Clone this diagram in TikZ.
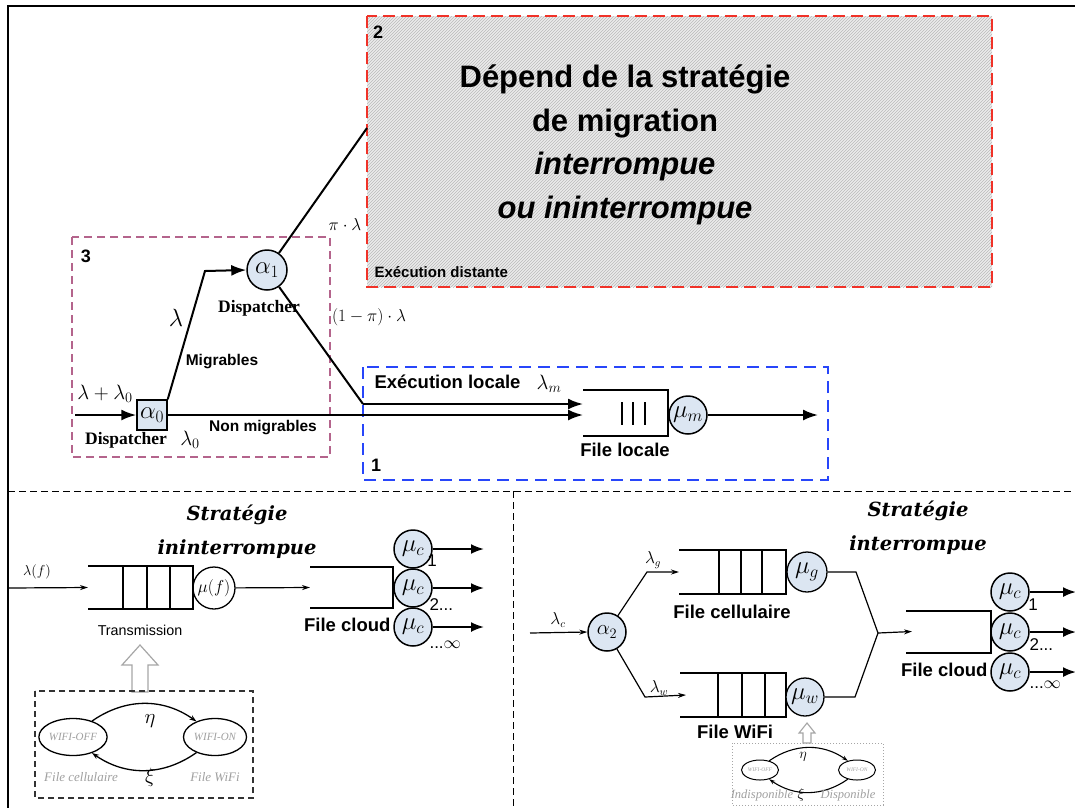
\documentclass[tikz,border=0pt]{standalone}
\usepackage{fontspec}
\setmainfont{Liberation Sans}
\newfontfamily\tms{Liberation Serif}
\newfontfamily\dvs{DejaVu Serif}
\usetikzlibrary{arrows.meta,patterns,shapes.geometric,calc}
\newcommand\fsz[1]{\fontsize{#1}{#1}\selectfont}
\definecolor{srvfill}{RGB}{220,230,242}
\definecolor{remred}{RGB}{240,50,40}
\definecolor{locblue}{RGB}{40,70,250}
\definecolor{dispink}{RGB}{180,100,140}
\tikzset{
  frameline/.style={line width=1.4pt},
  sepline/.style={line width=1pt, dash pattern=on 7pt off 4pt},
  srv/.style={circle, draw, line width=1.5pt, fill=srvfill, minimum size=38pt, inner sep=0pt},
  disp/.style={draw, line width=1.5pt, fill=srvfill, minimum size=30pt, inner sep=0pt},
  qnode/.style={inner sep=0pt, outer sep=0pt},
  flow/.style={line width=2pt, -{Latex[length=15pt,width=11pt]}},
  link/.style={line width=2pt},
  thinflow/.style={line width=1.2pt, -{Stealth[length=8pt,width=5pt]}},
  thinlink/.style={line width=1.2pt},
  outflow/.style={line width=2pt, -{Latex[length=13pt,width=10pt]}},
  sanslab/.style={font=\fsz{18.5}\bfseries},
  smallsans/.style={font=\fsz{15.5}\bfseries},
  serlab/.style={font=\fsz{17.5}\tms\bfseries},
  mlab/.style={font=\fsz{20}},
  strat/.style={font=\fontsize{19.5}{34}\selectfont\dvs\bfseries\itshape, align=center},
  wtxt/.style={font=\fsz{13}\tms\itshape, text=gray!75},
  wstate/.style={ellipse, draw, line width=1.3pt, minimum width=63pt, minimum height=37pt, inner sep=0pt, font=\fsz{11}\tms\itshape, text=gray!75},
  sstate/.style={ellipse, draw, line width=1pt, minimum width=37pt, minimum height=20pt, inner sep=0pt, font=\fsz{5.5}\tms\itshape, text=gray!75},
}
\begin{document}
\begin{tikzpicture}[x=1pt,y=-1pt]
\useasboundingbox (0,0) rectangle (1075,807);
\clip (0,0) rectangle (1075,807);

% outer frame and separators
\draw[frameline] (1080,6) -- (8,6) -- (8,812);
\draw[sepline] (8,491) -- (1080,491);
\draw[sepline] (513,491) -- (513,812);

% ---------- remote execution box (2)
\node[qnode, minimum width=625pt, minimum height=271pt,
      preaction={fill=gray!15}, pattern=north east lines, pattern color=gray!55]
      (rem) at (679.5,151.5) {};
\draw[remred, line width=2.5pt, dash pattern=on 12pt off 6pt] (rem.north west) rectangle (rem.south east);
\node[font=\fsz{18}\bfseries] (n2) at (378,32) {2};
\node[font=\fontsize{31}{43.5}\selectfont\bfseries, align=center] (remtxt) at (625,145)
  {Dépend de la stratégie\\de migration\\\textit{interrompue}\\\textit{ou ininterrompue}};
\node[font=\fsz{15}\bfseries, anchor=west] (dist) at (371,272) {Exécution distante};

% ---------- dispatch box (3)
\draw[dispink, line width=1.6pt, dash pattern=on 8pt off 5pt] (72,237) rectangle (330,457);
\node[font=\fsz{18}\bfseries] (n3) at (86,256) {3};

% ---------- local execution box (1)
\draw[locblue, line width=2.5pt, dash pattern=on 12pt off 7pt] (363,367) rectangle (828,480);
\node[font=\fsz{18}\bfseries] (n1) at (376,465) {1};

% dispatchers
\node[disp] (a0) at (152,415) {\fsz{24}$\alpha_0$};
\node[srv, minimum size=40pt] (a1) at (267,270) {\fsz{24}$\alpha_1$};
\coordinate (in0) at (75,415);
\coordinate (mig) at (205,271);
\coordinate (rin) at (367,128);
\coordinate (lc) at (363,404);

% local queue and server
\node[qnode, minimum width=85pt, minimum height=46pt] (ql) at (625.5,413) {};
\draw[link] (ql.north west) -- (ql.north east) -- (ql.south east) -- (ql.south west);
\foreach \x in {622,633,645} \draw[line width=2pt] (\x,402) -- (\x,425);
\node[srv] (mum) at (688,415) {\fsz{26}$\mu_m$};
\coordinate (outm) at (818,415);

% flows
\draw[flow] (in0) -- (a0.west);
\draw[flow] (a0.north east) -- (mig) -- (a1.west);
\draw[link] (a1) -- (rin);
\draw[link] (a1) -- (lc);
\draw[flow] (lc) -- (lc -| ql.west);
\draw[flow] (a0.east) -- (a0.east -| ql.west);
\draw[flow] (mum) -- (outm);

% labels of the top part
\node[mlab] (l0) at (105,394) {$\lambda+\lambda_0$};
\node[serlab] (d0) at (126,440) {Dispatcher};
\node[mlab] (l00) at (190,440) {$\lambda_0$};
\node[smallsans] (nm) at (263,428) {Non migrables};
\node[font=\fsz{26}] (lm) at (176,318) {$\lambda$};
\node[smallsans] (mg) at (222,362) {Migrables};
\node[serlab] (d1) at (259,308) {Dispatcher};
\node[font=\fsz{18}] (pl) at (345,224) {$\pi\cdot\lambda$};
\node[font=\fsz{19}] (ompl) at (369,317) {$(1-\pi)\cdot\lambda$};
\node[sanslab, anchor=west] (el) at (371,382) {Exécution locale};
\node[mlab] (lmm) at (549,384) {$\lambda_m$};
\node[sanslab] (fl) at (625,450) {File locale};

% ---------- uninterrupted strategy
\node[strat] (s1) at (237,532) {Stratégie\\ininterrompue};
\node[font=\fsz{15}] (lf) at (37,572) {$\lambda(f)$};
\coordinate (inf) at (8,588);
\node[qnode, minimum width=105pt, minimum height=43pt] (tq) at (140.5,587.5) {};
\draw[thinlink] (tq.north west) -- (tq.north east) -- (tq.south east) -- (tq.south west);
\foreach \x in {123,147,170} \draw[thinlink] (\x,566) -- (\x,609);
\node[circle, draw, line width=1.3pt, minimum size=42pt, inner sep=0pt, font=\fsz{17}] (muf) at (214,588) {$\mu(f)$};
\node[qnode, minimum width=83pt, minimum height=41pt] (cq) at (351.5,587.5) {};
\draw[link] (cq.north west) -- (cq.north east) -- (cq.south east) -- (cq.south west);
\node[srv] (c1) at (413,549) {\fsz{26}$\mu_c$};
\node[srv] (c2) at (413,588) {\fsz{26}$\mu_c$};
\node[srv] (c3) at (413,627) {\fsz{26}$\mu_c$};
\draw[thinflow] (inf) -- (tq.west);
\draw[thinflow] (muf) -- (cq.west);
\foreach \c in {c1,c2,c3} \draw[outflow] (\c) -- (\c -| 484,0);
\node[font=\fsz{17}] (k1) at (432,561) {1};
\node[font=\fsz{17}, anchor=west] (k2) at (426,605) {2...};
\node[font=\fsz{17}, anchor=west] (k3) at (426,645) {...$\infty$};
\node[sanslab, anchor=east] (fc) at (394,625) {File cloud};
\node[font=\fsz{14.3}] (tr) at (140,630) {Transmission};

% state machine of the Wi-Fi link
\draw[gray!70, line width=1.2pt, fill=white] (140,645) -- (158,665) -- (148,665) -- (148,692) -- (132,692) -- (132,665) -- (122,665) -- cycle;
\draw[gray!40!black, line width=1.3pt, dash pattern=on 6pt off 4pt] (35,691) rectangle (253,798);
\node[wstate] (woff) at (73,737) {WIFI-OFF};
\node[wstate] (won) at (215,737) {WIFI-ON};
\draw[line width=1.3pt, -{Stealth[length=7pt,width=5pt]}] (woff.40) to[bend left=35] (won.140);
\draw[line width=1.3pt, -{Stealth[length=7pt,width=5pt]}] (won.-140) to[bend left=35] (woff.-40);
\node[font=\fsz{20}] (eta1) at (150,721) {$\eta$};
\node[font=\fsz{20}] (xi1) at (150,777) {$\xi$};
\node[wtxt] (fcell) at (81,777) {File cellulaire};
\node[wtxt] (fwifi) at (215,777) {File WiFi};

% ---------- interrupted strategy
\node[strat] (s2) at (918,528) {Stratégie\\interrompue};
\node[font=\fsz{16}] (lc2) at (558,620) {$\lambda_c$};
\coordinate (inc) at (530,633);
\node[srv] (a2) at (607,632) {\fsz{20}$\alpha_2$};
\coordinate (up) at (647,572);
\coordinate (dn) at (645,697);
\node[qnode, minimum width=107pt, minimum height=44pt] (cg) at (732.5,572) {};
\draw[thinlink] (cg.north west) -- (cg.north east) -- (cg.south east) -- (cg.south west);
\foreach \x in {719,741,762} \draw[thinlink] (\x,550) -- (\x,594);
\node[srv, line width=1.3pt, minimum size=40pt] (mug) at (807,572) {\fsz{24}$\mu_g$};
\node[qnode, minimum width=106pt, minimum height=44pt] (cw) at (733,695) {};
\draw[thinlink] (cw.north west) -- (cw.north east) -- (cw.south east) -- (cw.south west);
\foreach \x in {718,742,765} \draw[thinlink] (\x,673) -- (\x,717);
\node[srv, line width=1.3pt] (muw) at (805,697) {\fsz{24}$\mu_w$};
\coordinate (gt) at (856,572);
\coordinate (wt) at (855,697);
\coordinate (mrg) at (878,633);
\node[qnode, minimum width=85pt, minimum height=42pt] (cq2) at (948.5,631.5) {};
\draw[link] (cq2.north west) -- (cq2.north east) -- (cq2.south east) -- (cq2.south west);
\node[srv] (d1c) at (1010,592) {\fsz{26}$\mu_c$};
\node[srv] (d2c) at (1010,632) {\fsz{26}$\mu_c$};
\node[srv] (d3c) at (1010,672) {\fsz{26}$\mu_c$};

\draw[thinflow] (inc) -- (a2.west);
\draw[thinflow] (a2) -- (up) -- (cg.west);
\draw[thinflow] (a2) -- (dn) -- ($(cw.west)+(6,0)$);
\draw[thinlink] (mug) -- (gt) -- (mrg);
\draw[thinlink] (muw) -- (wt) -- (mrg);
\draw[thinflow] (mrg) -- ($(cq2.west)+(6,0)$);
\foreach \c in {d1c,d2c,d3c} \draw[outflow] (\c) -- (\c -| 1076,0);

\node[font=\fsz{16}] (lg) at (653,560) {$\lambda_g$};
\node[font=\fsz{16}] (lw) at (659,688) {$\lambda_w$};
\node[sanslab] (fcl) at (732,612) {File cellulaire};
\node[sanslab] (fwf) at (735,732) {File WiFi};
\node[sanslab, anchor=east] (fc2) at (991,670) {File cloud};
\node[font=\fsz{17}] (q1) at (1033,605) {1};
\node[font=\fsz{17}, anchor=west] (q2) at (1026,645) {2...};
\node[font=\fsz{17}, anchor=west] (q3) at (1026,685) {...$\infty$};

% availability of the Wi-Fi server
\draw[gray!70, line width=1.1pt, fill=white] (807,723) -- (815,733) -- (811,733) -- (811,743) -- (803,743) -- (803,733) -- (799,733) -- cycle;
\draw[gray!70, line width=1pt, dotted] (732,743) rectangle (883,805);
\node[sstate] (soff) at (760,770) {WIFI-OFF};
\node[sstate] (son) at (857,770) {WIFI-ON};
\draw[line width=1.1pt, -{Stealth[length=6pt,width=4pt]}] (soff.45) to[bend left=35] (son.135);
\draw[line width=1.1pt, -{Stealth[length=6pt,width=4pt]}] (son.-135) to[bend left=35] (soff.-45);
\node[font=\fsz{14}] (eta2) at (803,757) {$\eta$};
\node[font=\fsz{14}] (xi2) at (801,795) {$\xi$};
\node[wtxt, font=\fsz{12.5}\tms\itshape] (indi) at (762,795) {Indisponible};
\node[wtxt, font=\fsz{12.5}\tms\itshape] (dispo) at (848,795) {Disponible};
\end{tikzpicture}
\end{document}
